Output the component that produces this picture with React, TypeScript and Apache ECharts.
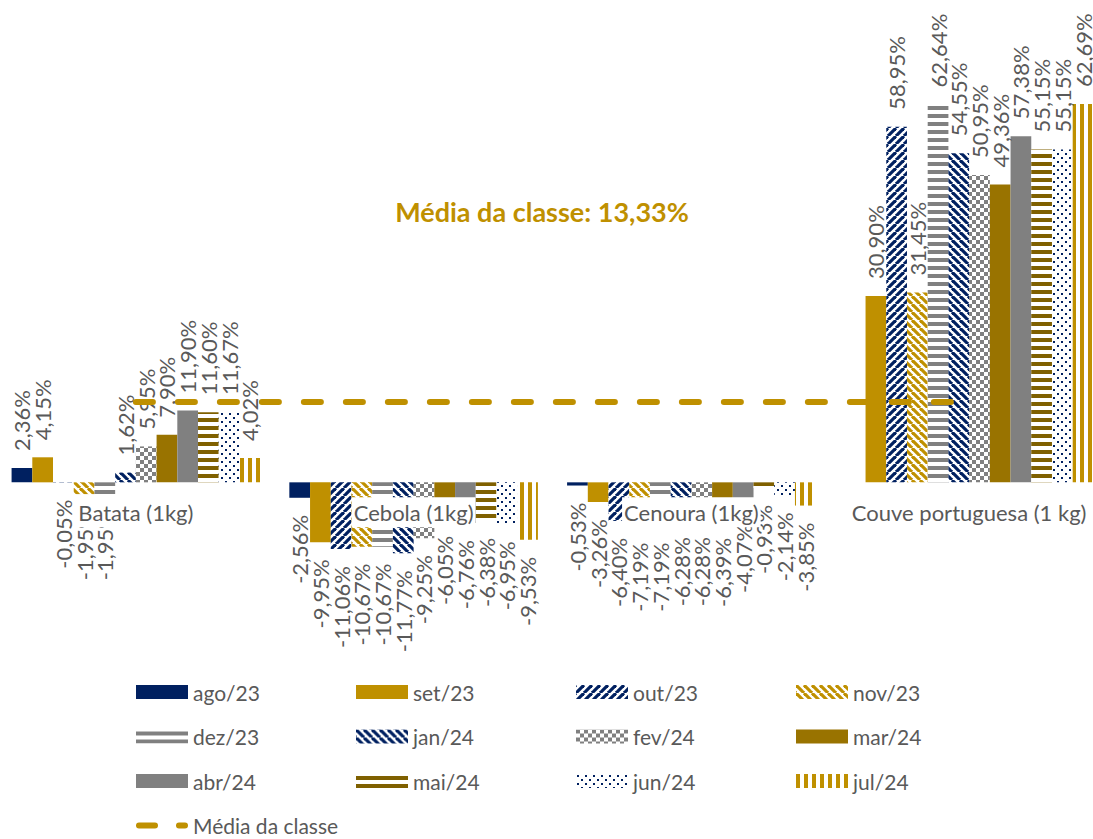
import React, { useEffect, useRef } from "react";
import * as echarts from "echarts";

const categories = ["Batata (1kg)", "Cebola (1kg)", "Cenoura (1kg)", "Couve portuguesa (1 kg)"];
const months = ["ago/23", "set/23", "out/23", "nov/23", "dez/23", "jan/24", "fev/24", "mar/24", "abr/24", "mai/24", "jun/24", "jul/24"];

const ago23 = [2.36, -2.56, -0.53, null];
const set23 = [4.15, -9.95, -3.26, 30.9];
const out23 = [-0.05, -11.06, -6.4, 58.95];
const nov23 = [-1.95, -10.67, -7.19, 31.45];
const dez23 = [-1.95, -10.67, -7.19, 62.64];
const jan24 = [1.62, -11.77, -6.28, 54.55];
const fev24 = [5.95, -9.25, -6.28, 50.95];
const mar24 = [7.9, -6.05, -6.39, 49.36];
const abr24 = [11.9, -6.76, -4.07, 57.38];
const mai24 = [11.6, -6.38, -0.93, 55.15];
const jun24 = [11.67, -6.95, -2.14, 55.15];
const jul24 = [4.02, -9.53, -3.85, 62.69];
const monthValues = [ago23, set23, out23, nov23, dez23, jan24, fev24, mar24, abr24, mai24, jun24, jul24];

const mediaName = "Média da classe";
const mediaClasse = [13.33, 13.33, 13.33, 13.33];
const mediaText = "Média da classe: 13,33%";

const Y_MIN = -20;
const Y_MAX = 70;

const NAVY = "#002060";
const GOLD = "#BF9000";
const GRAY = "#808080";
const DARK_GOLD = "#997300";
const BROWN = "#7F6000";
const TEXT = "#595959";
const FONT = "Lato";

function tile(w: number, h: number, draw: (ctx: CanvasRenderingContext2D) => void) {
  const c = document.createElement("canvas");
  c.width = w;
  c.height = h;
  const ctx = c.getContext("2d") as CanvasRenderingContext2D;
  ctx.fillStyle = "#ffffff";
  ctx.fillRect(0, 0, w, h);
  draw(ctx);
  return { image: c, repeat: "repeat", imageWidth: w, imageHeight: h } as any;
}

function diag(color: string, up: boolean) {
  return tile(8, 8, (ctx) => {
    ctx.strokeStyle = color;
    ctx.lineWidth = 3.2;
    for (const x of [-8, 0, 8]) {
      ctx.beginPath();
      if (up) {
        ctx.moveTo(x, 8);
        ctx.lineTo(x + 8, 0);
      } else {
        ctx.moveTo(x, 0);
        ctx.lineTo(x + 8, 8);
      }
      ctx.stroke();
    }
  });
}

function hstripes(color: string) {
  return tile(8, 8, (ctx) => {
    ctx.fillStyle = color;
    ctx.fillRect(0, 2, 8, 4);
  });
}

function makeColors(): any[] {
  return [
    NAVY,
    GOLD,
    diag(NAVY, true),
    diag(GOLD, false),
    hstripes(GRAY),
    diag(NAVY, false),
    tile(8, 8, (ctx) => {
      ctx.fillStyle = GRAY;
      ctx.fillRect(0, 0, 4, 4);
      ctx.fillRect(4, 4, 4, 4);
    }),
    DARK_GOLD,
    GRAY,
    hstripes(BROWN),
    tile(8, 8, (ctx) => {
      ctx.fillStyle = NAVY;
      ctx.fillRect(1, 1, 2, 2);
      ctx.fillRect(5, 5, 2, 2);
    }),
    tile(8, 8, (ctx) => {
      ctx.fillStyle = GOLD;
      ctx.fillRect(0, 0, 4, 8);
    }),
  ];
}

const fmt = (v: number) => v.toFixed(2).replace(".", ",") + "%";

const GRID_TOP = 60;
const GRID_H = 543;

export default function App() {
  const ref = useRef<HTMLDivElement>(null);
  useEffect(() => {
    if (!ref.current) return;
    const chart = echarts.init(ref.current, undefined, { renderer: "svg" });
    const colors = makeColors();
    const barSeries = months.map((m, i) => ({
      name: m,
      type: "bar",
      barGap: "0%",
      barCategoryGap: "10.5%",
      itemStyle: { color: colors[i] },
      data: monthValues[i].map((v) =>
        v === null
          ? "-"
          : {
              value: v,
              label: {
                position: v < 0 ? "bottom" : "top",
                align: v < 0 ? "right" : "left",
              },
            }
      ),
      label: {
        show: true,
        rotate: 90,
        distance: 17,
        verticalAlign: "middle",
        fontFamily: FONT,
        fontSize: 22,
        color: TEXT,
        formatter: (p: any) => fmt(p.value),
      },
    }));
    const legendCommon = {
      orient: "vertical",
      top: 681,
      height: 200,
      padding: 0,
      itemWidth: 52,
      itemHeight: 14,
      itemGap: 22.5,
      textStyle: { fontFamily: FONT, fontSize: 21, color: TEXT, lineHeight: 22 },
    };
    const item = (n: string) => ({ name: n, icon: "rect" });
    const mediaIcon =
      "path://M3,0h16a3,3 0 0 1 0,6h-16a3,3 0 0 1 0,-6z M43,0h6a3,3 0 0 1 0,6h-6a3,3 0 0 1 0,-6z";
    // offset of the category axis from the grid bottom to the zero line
    const zeroOffset = -(GRID_H * (0 - Y_MIN)) / (Y_MAX - Y_MIN);
    chart.setOption({
      animation: false,
      grid: {
        left: -3,
        right: -15,
        top: GRID_TOP,
        height: GRID_H,
        containLabel: false,
        outerBoundsMode: "none",
      },
      xAxis: {
        type: "category",
        data: categories,
        z: 10,
        position: "bottom",
        offset: zeroOffset,
        axisLine: { show: false, onZero: false },
        axisTick: { show: false },
        axisLabel: {
          margin: 15,
          fontFamily: FONT,
          fontSize: 22,
          lineHeight: 24,
          color: TEXT,
          backgroundColor: "#ffffff",
          padding: [3, 2],
          interval: 0,
        },
      },
      yAxis: {
        type: "value",
        min: Y_MIN,
        max: Y_MAX,
        show: false,
        splitLine: { show: false },
      },
      legend: [
        { ...legendCommon, left: 136, data: [item(months[0]), item(months[4]), item(months[8]), { name: mediaName, icon: mediaIcon }] },
        { ...legendCommon, left: 356, data: [item(months[1]), item(months[5]), item(months[9])] },
        { ...legendCommon, left: 576, data: [item(months[2]), item(months[6]), item(months[10])] },
        { ...legendCommon, left: 796, data: [item(months[3]), item(months[7]), item(months[11])] },
      ],
      graphic: [
        {
          type: "text",
          x: 542,
          y: 211,
          style: {
            text: mediaText,
            fill: GOLD,
            fontFamily: FONT,
            fontWeight: "bold",
            fontSize: 27,
            textAlign: "center",
            textVerticalAlign: "middle",
          },
        },
      ],
      series: [
        ...barSeries,
        {
          name: mediaName,
          type: "line",
          data: mediaClasse,
          symbol: "none",
          z: 5,
          lineStyle: { color: GOLD, width: 6, type: [17, 25], cap: "round" },
          itemStyle: { color: GOLD },
        },
      ],
    } as any);
    return () => chart.dispose();
  }, []);
  return <div ref={ref} style={{ position: "absolute", left: 0, top: 0, width: 1093, height: 839 }} />;
}
